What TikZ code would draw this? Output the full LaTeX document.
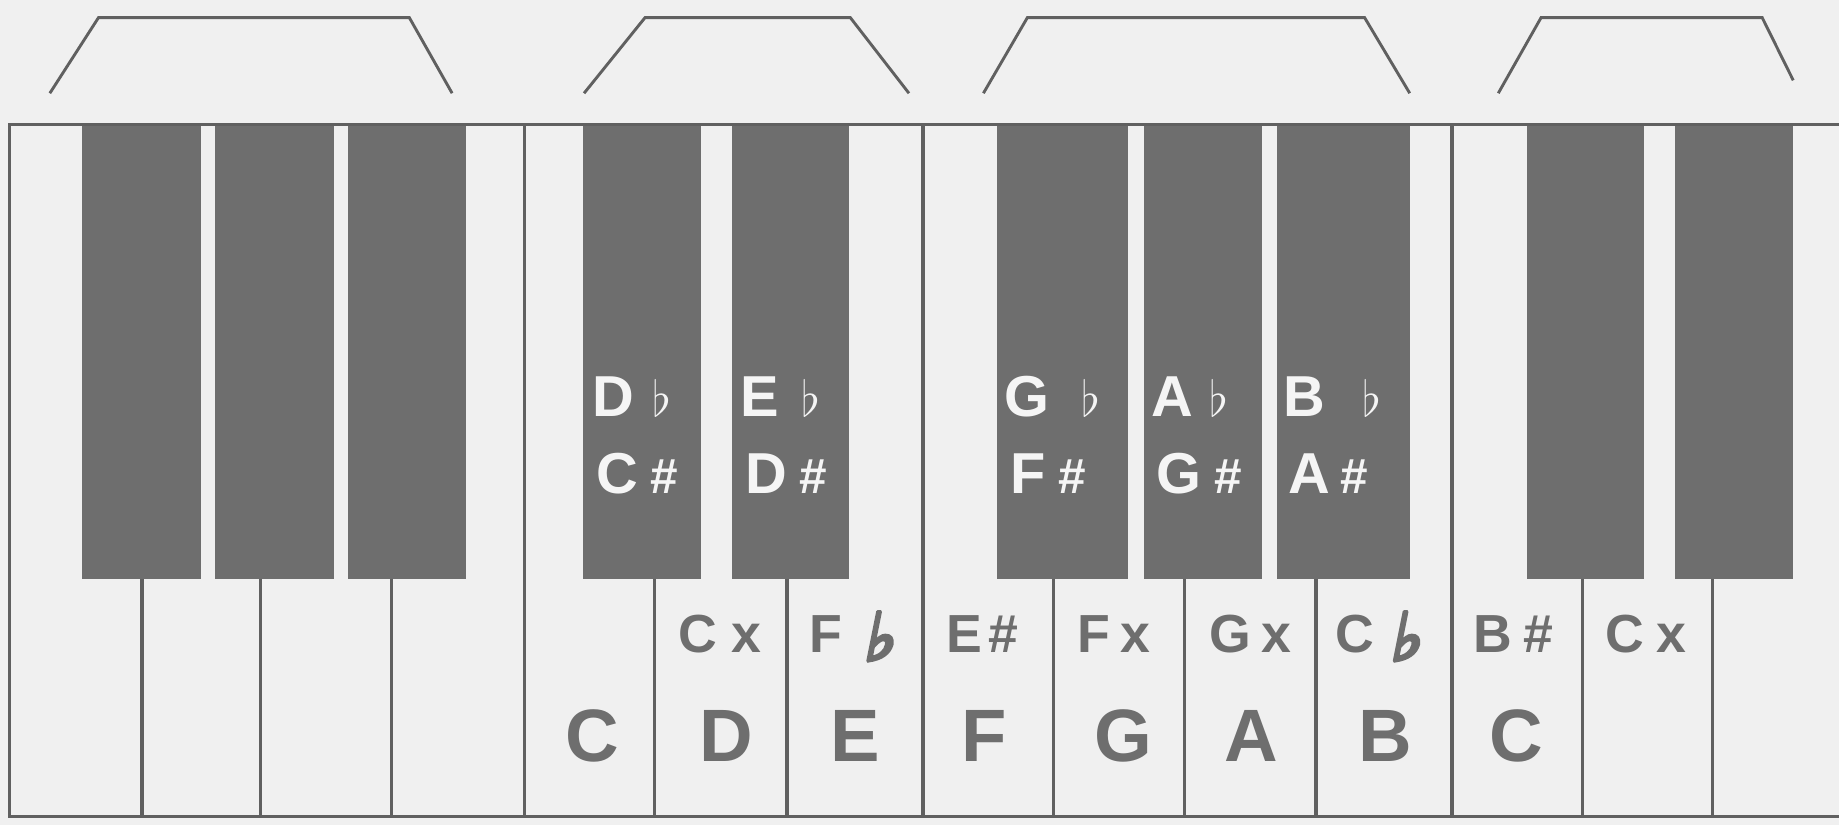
\documentclass[tikz,border=0pt]{standalone}
\usepackage{fontspec}
\setmainfont{Liberation Sans}
\newfontfamily\accfont{DejaVu Sans}[FakeSlant=0.2,FakeBold=6]
\definecolor{paper}{HTML}{F0F0F0}
\definecolor{keygray}{HTML}{6E6E6E}
\definecolor{inkgray}{HTML}{606060}
\definecolor{keyink}{HTML}{F5F5F5}
\newcommand{\blackflat}{{\fontsize{11.5}{13}\selectfont$\flat$}}
\newcommand{\whiteflat}{\raisebox{-2pt}{\accfont\fontsize{16}{18}\selectfont ♭}}
\newcommand{\blacksharp}{{\fontsize{12}{14}\selectfont\#}}

\begin{document}
\begin{tikzpicture}[x=0.01cm,y=-0.01cm,
    keyline/.style={draw=inkgray,line width=0.8pt},
    bracket/.style={draw=inkgray,line width=0.7pt},
    blackkey/.style={fill=keygray},
    black name/.style={anchor=base,inner sep=0pt,text=keyink,font=\fontsize{14}{16}\selectfont\bfseries},
    white name/.style={anchor=base,inner sep=0pt,text=keygray,font=\fontsize{13}{15}\selectfont\bfseries},
    big name/.style={anchor=base,inner sep=0pt,text=keygray,font=\fontsize{18}{20}\selectfont\bfseries} ]
    \useasboundingbox (0,0) rectangle (1568,703);
    \fill[paper] (0,0) rectangle (1568,703);
    % brackets over the groups of black keys
    \draw[bracket] (42.5,79.5) -- (84,15) -- (349,15) -- (385.5,79.5);
    \draw[bracket] (498,79.5) -- (550,15) -- (725,15) -- (775,79.5);
    \draw[bracket] (838.5,79.5) -- (876,15) -- (1163.5,15) -- (1202,79.5);
    \draw[bracket] (1277.5,79.5) -- (1314,15) -- (1502.5,15) -- (1529,68.5);
    % black keys
    \foreach \l/\r in {70/171,183.5/284.5,296.5/397.5,497.5/597.5,624/724,
        850/962,975/1076,1089/1202,1302/1402,1428/1529}
        \fill[blackkey] (\l,106) rectangle (\r,493.5);
    % outline and white keys
    \draw[keyline] (1568,106) -- (8,106) -- (8,696) -- (1568,696);
    \foreach \x in {447,787,1238}
        \draw[keyline] (\x,106) -- (\x,696);
    \foreach \x in {121,222,334,558,671,898,1010,1122,1349,1460}
        \draw[keyline] (\x,493.5) -- (\x,696);
    % names on the black keys
    \node at (538.5,355) [black name] (dflat) {D\hspace{4.5pt}\blackflat};
    \node at (665.5,355) [black name] (eflat) {E\hspace{5.5pt}\blackflat};
    \node at (897.3,355) [black name] (gflat) {G\hspace{8pt}\blackflat};
    \node at (1014.5,355) [black name] (aflat) {A\hspace{4pt}\blackflat};
    \node at (1136,355) [black name] (bflat) {B\hspace{9pt}\blackflat};
    \node at (543,421) [black name] (csharp) {C\hspace{3pt}\blacksharp};
    \node at (670.6,421) [black name] (dsharp) {D\hspace{3pt}\blacksharp};
    \node at (893.6,421) [black name] (fsharp) {F\hspace{3pt}\blacksharp};
    \node at (1022.5,421) [black name] (gsharp) {G\hspace{3pt}\blacksharp};
    \node at (1132.5,421) [black name] (asharp) {A\hspace{2.5pt}\blacksharp};
    % other names of the white keys
    \node at (613.8,556) [white name] (cdbl) {C\hspace{3.5pt}x};
    \node at (726,556) [white name] (fflat) {F\hspace{5pt}\whiteflat};
    \node at (837.3,556) [white name] (esharp) {E\hspace{1.5pt}\#};
    \node at (950,556) [white name] (fdbl) {F\hspace{2.5pt}x};
    \node at (1066,556) [white name] (gdbl) {G\hspace{2.5pt}x};
    \node at (1175,556) [white name] (cflat) {C\hspace{3.5pt}\whiteflat};
    \node at (1290.4,556) [white name] (bsharp) {B\hspace{2.5pt}\#};
    \node at (1403,556) [white name] (cdblb) {C\hspace{3pt}x};
    % white keys
    \node at (505,649) [big name] (c) {C};
    \node at (619.5,649) [big name] (d) {D};
    \node at (729.5,649) [big name] (e) {E};
    \node at (839,649) [big name] (f) {F};
    \node at (957.5,649) [big name] (g) {G};
    \node at (1067,649) [big name] (a) {A};
    \node at (1181,649) [big name] (b) {B};
    \node at (1292.5,649) [big name] (cc) {C};
\end{tikzpicture}
\end{document}
